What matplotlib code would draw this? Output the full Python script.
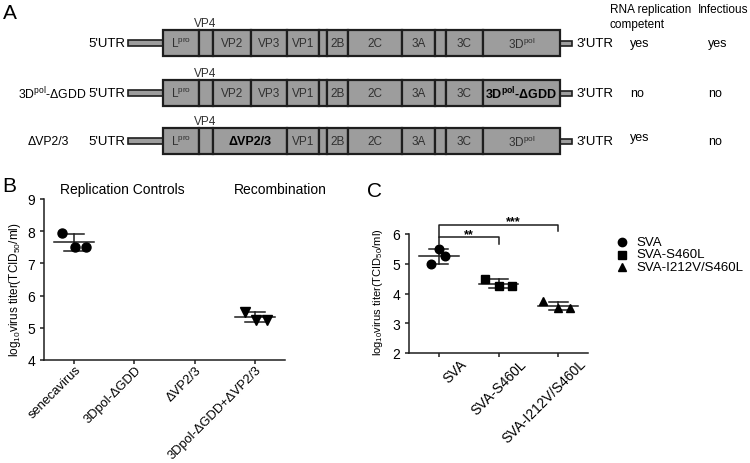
import numpy as np
import matplotlib
matplotlib.use('Agg')
import matplotlib.pyplot as plt
from matplotlib.patches import Rectangle
from matplotlib.transforms import ScaledTranslation

plt.rcParams['font.family'] = ['Liberation Sans', 'DejaVu Sans']
plt.rcParams['mathtext.fontset'] = 'custom'
plt.rcParams['mathtext.rm'] = 'Liberation Sans'
plt.rcParams['mathtext.it'] = 'Liberation Sans:italic'
plt.rcParams['mathtext.bf'] = 'Liberation Sans:bold'

# ---- Panel A: constructs ----
CONSTRUCTS = ['', r'3D$^{\rm pol}$-ΔGDD', 'ΔVP2/3']
RNA_REPLICATION = ['yes', 'no', 'yes']
INFECTIOUS = ['yes', 'no', 'no']

# genome segments: label and boundaries (pixel layout of the diagram)
SEG_LABELS = [r'L$^{\rm pro}$', '', 'VP2', 'VP3', 'VP1', '', '2B', '2C', '3A', '', '3C', r'3D$^{\rm pol}$']
SEG_EDGES = [163, 199, 213, 251, 287, 319, 327, 348, 402, 435, 446, 483, 560]

# ---- Panel B: replication controls / recombination ----
B_GROUPS = ['senecavirus', '3Dpol-ΔGDD', 'ΔVP2/3', '3Dpol-ΔGDD+ΔVP2/3']
b_senecavirus = [7.95, 7.5, 7.5]
b_recombinant = [5.5, 5.25, 5.25]

# ---- Panel C: mutants ----
C_GROUPS = ['SVA', 'SVA-S460L', 'SVA-I212V/S460L']
c_sva = [5.0, 5.5, 5.25]
c_s460l = [4.5, 4.25, 4.25]
c_i212v_s460l = [3.75, 3.5, 3.5]

INK = '#1e1e1e'
BOX_FILL = '#9d9d9d'
YLABEL = 'log$_{10}$virus titer(TCID$_{50}$/ml)'


def draw_genome(ax, top, row, h=26):
    labels = list(SEG_LABELS)
    edges = list(SEG_EDGES)
    bold = [False] * len(labels)
    if row == 1:
        bold[-1] = True
        labels[-1] = r'3D$^{\bf pol}$-ΔGDD'
    if row == 2:
        # VP2 and VP3 merged into one deleted block
        del edges[3]
        del labels[3]
        del bold[3]
        labels[2] = 'ΔVP2/3'
        bold[2] = True
    mid = top + h / 2
    # UTR bars
    ax.add_patch(Rectangle((128, mid - 3), 35, 6, fc=BOX_FILL, ec=INK, lw=1.2))
    ax.add_patch(Rectangle((560, mid - 2.5), 12, 5, fc=BOX_FILL, ec=INK, lw=1.2))
    for lab, x0, x1, b in zip(labels, edges[:-1], edges[1:], bold):
        ax.add_patch(Rectangle((x0, top), x1 - x0, h, fc=BOX_FILL, ec=INK, lw=1.6))
        if lab:
            ax.text((x0 + x1) / 2, mid, lab, ha='center', va='center',
                    fontsize=9 if b else 8.5, color='black' if b else '#303030',
                    fontweight='bold' if b else 'normal')
    ax.text(205, top - 7, 'VP4', ha='center', va='center', fontsize=8.5, color='#303030')
    ax.text(125, mid, "5'UTR", ha='right', va='center', fontsize=9.5)
    ax.text(576, mid, "3'UTR", ha='left', va='center', fontsize=9.5)


def dot_plot(ax, x, values, marker, jitter, ms):
    v = np.asarray(values)
    m, sd = v.mean(), v.std(ddof=1)
    ax.plot(x + np.asarray(jitter), v, ls='none', marker=marker, ms=ms,
            color='black', zorder=3, clip_on=False)
    ax.plot([x - 0.33, x + 0.33], [m, m], color=INK, lw=1.1, zorder=2)
    ax.plot([x, x], [m - sd, m + sd], color=INK, lw=1.1, zorder=2)
    for yy in (m - sd, m + sd):
        ax.plot([x - 0.16, x + 0.16], [yy, yy], color=INK, lw=1.1, zorder=2)


def style_axis(ax, xpad, xshift_px, xsize):
    for s in ('top', 'right'):
        ax.spines[s].set_visible(False)
    for s in ('left', 'bottom'):
        ax.spines[s].set_color(INK)
        ax.spines[s].set_linewidth(1.1)
    ax.tick_params(direction='out', length=3, width=1.1, color=INK, labelsize=10)
    ax.tick_params(axis='x', pad=xpad, labelsize=xsize)
    shift = ScaledTranslation(xshift_px / 100, 0, ax.figure.dpi_scale_trans)
    for lab in ax.get_xticklabels():
        lab.set_rotation(45)
        lab.set_ha('right')
        lab.set_va('center')
        lab.set_rotation_mode('anchor')
        lab.set_transform(lab.get_transform() + shift)


W, H = 750, 464
fig = plt.figure(figsize=(7.5, 4.64), dpi=100)

# overlay in pixel units for the diagram and free text
ov = fig.add_axes([0, 0, 1, 1])
ov.set_xlim(0, W)
ov.set_ylim(H, 0)
ov.axis('off')

row_tops = [31, 81, 129]
for i, top in enumerate(row_tops):
    draw_genome(ov, top, i)
    mid = top + 13
    if CONSTRUCTS[i]:
        ov.text(18 if i == 1 else 28, mid, CONSTRUCTS[i], ha='left', va='center', fontsize=8.8)
    ov.text(630, mid - (4 if i == 2 else 0), RNA_REPLICATION[i], ha='left', va='center', fontsize=9)
    ov.text(708, mid, INFECTIOUS[i], ha='left', va='center', fontsize=9)

ov.text(610, 10, 'RNA replication', ha='left', va='center', fontsize=8.5)
ov.text(610, 25, 'competent', ha='left', va='center', fontsize=8.5)
ov.text(698, 10, 'Infectious', ha='left', va='center', fontsize=8.5)

for lab, (x, y) in zip('ABC', [(3, 4), (2, 177), (367, 182)]):
    ov.text(x, y, lab, ha='left', va='top', fontsize=15)

ov.text(122, 190, 'Replication Controls', ha='center', va='center', fontsize=10)
ov.text(280, 190, 'Recombination', ha='center', va='center', fontsize=10)
ov.text(15, 290, YLABEL, rotation=90, ha='center', va='center', fontsize=8.5)
ov.text(378, 292, YLABEL, rotation=90, ha='center', va='center', fontsize=8)

# ---- Panel B ----
axb = fig.add_axes([44 / W, (H - 361) / H, 241 / W, 161 / H])
axb.patch.set_alpha(0)
dot_plot(axb, 0, b_senecavirus, 'o', [-0.2, 0.02, 0.19], 6.5)
dot_plot(axb, 3, b_recombinant, 'v', [-0.17, 0.02, 0.2], 6.5)
axb.set_xlim(-0.5, 3.5)
axb.set_ylim(4, 9)
axb.set_yticks(range(4, 10))
axb.set_xticks(range(len(B_GROUPS)))
axb.set_xticklabels(B_GROUPS)
style_axis(axb, xpad=2.5, xshift_px=5, xsize=9.3)

# ---- Panel C ----
axc = fig.add_axes([409 / W, (H - 354) / H, 179 / W, 119 / H])
axc.patch.set_alpha(0)
c_markers = ['o', 's', '^']
c_jitter = [[-0.13, 0.0, 0.11], [-0.23, 0.0, 0.23], [-0.25, 0.0, 0.2]]
for i, vals in enumerate([c_sva, c_s460l, c_i212v_s460l]):
    dot_plot(axc, i, vals, c_markers[i], c_jitter[i], 6 if i else 6.2)
axc.set_xlim(-0.5, 2.5)
axc.set_ylim(2, 6)
axc.set_yticks(range(2, 7))
axc.set_xticks(range(len(C_GROUPS)))
axc.set_xticklabels(C_GROUPS)
style_axis(axc, xpad=3, xshift_px=26, xsize=10)

# significance brackets
axc.plot([0, 0, 2, 2], [5.9, 6.3, 6.3, 6.1], color=INK, lw=1.1, clip_on=False)
axc.plot([0, 0, 1, 1], [5.66, 5.9, 5.9, 5.66], color=INK, lw=1.1, clip_on=False)
axc.text(0.5, 6.0, '**', ha='center', va='center', fontsize=9, fontweight='bold')
axc.text(1.25, 6.42, '***', ha='center', va='center', fontsize=9, fontweight='bold')

# legend for panel C
for i, (lab, mk) in enumerate(zip(C_GROUPS, c_markers)):
    y = 243 + 12.5 * i
    ov.plot([622], [y], marker=mk, ms=6, color='black', ls='none')
    ov.text(636, y, lab, ha='left', va='center', fontsize=9.5)

fig.savefig('out.png', dpi=100)
